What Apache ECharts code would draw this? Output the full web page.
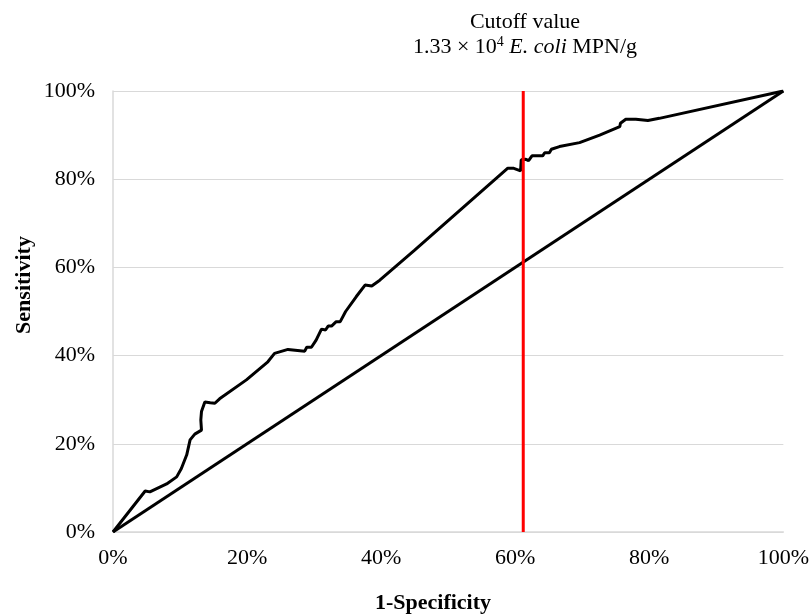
<!DOCTYPE html>
<html>
<head>
<meta charset="utf-8">
<script src="https://cdn.jsdelivr.net/npm/echarts@6/dist/echarts.min.js"></script>
<style>
  html, body { margin: 0; padding: 0; background: #fff; }
  #chart { width: 812px; height: 615px; }
</style>
</head>
<body>
<div id="chart"></div>
<script>
// ROC curve (1-specificity %, sensitivity %)
var rocFpr = [0, 4.8, 5.5, 8.0, 9.5, 10.2, 11.0, 11.5, 12.2, 13.2, 13.1, 13.2, 13.7, 14.5, 15.2, 15.9,
  19.9, 23.1, 24.1, 26.1, 28.6, 28.9, 29.6, 30.3, 31.1, 31.7, 32.1, 32.6, 33.3, 33.9, 34.7, 36.3,
  37.6, 38.6, 39.8, 45.0, 58.9, 59.7, 60.8, 60.9, 61.6, 62.0, 62.5, 64.1, 64.4, 65.1, 65.4, 66.6,
  69.6, 72.6, 75.6, 75.7, 76.5, 78.0, 79.8, 81.5, 100];
var rocTpr = [0, 9.3, 9.1, 10.9, 12.5, 14.4, 17.5, 20.9, 22.2, 23.1, 25.4, 27.3, 29.5, 29.3, 29.2, 30.2,
  34.5, 38.6, 40.5, 41.4, 41.0, 41.9, 41.9, 43.5, 46.0, 45.8, 46.7, 46.7, 47.7, 47.7, 50.0, 53.4,
  56.0, 55.8, 57.1, 63.9, 82.5, 82.5, 81.9, 84.4, 84.5, 84.2, 85.3, 85.3, 86.0, 86.0, 86.8, 87.4,
  88.3, 90.0, 91.9, 92.7, 93.6, 93.6, 93.3, 93.8, 100];
var refFpr = [0, 100];
var refTpr = [0, 100];
var cutoff = 61.2;
var tickValues = [0, 20, 40, 60, 80, 100];

var font = '"Liberation Serif", "Times New Roman", serif';

function pairs(xs, ys) {
  return xs.map(function (x, i) { return [x, ys[i]]; });
}

var chart = echarts.init(document.getElementById('chart'));
chart.setOption({
  animation: false,
  grid: { left: 113, right: 28, top: 91, bottom: 83 },
  xAxis: {
    type: 'value',
    min: tickValues[0],
    max: tickValues[tickValues.length - 1],
    interval: 20,
    axisLine: { show: true, lineStyle: { color: '#d9d9d9', width: 1.5 } },
    axisTick: { show: false },
    splitLine: { show: false },
    axisLabel: { formatter: '{value}%', color: '#000', fontFamily: font, fontSize: 22, margin: 15 }
  },
  yAxis: {
    type: 'value',
    min: tickValues[0],
    max: tickValues[tickValues.length - 1],
    interval: 20,
    axisLine: { show: true, lineStyle: { color: '#d9d9d9', width: 1.5 } },
    axisTick: { show: false },
    splitLine: { show: true, lineStyle: { color: '#d9d9d9', width: 1.2 } },
    axisLabel: { formatter: '{value}%', color: '#000', fontFamily: font, fontSize: 22, margin: 18 }
  },
  series: [
    {
      name: 'ROC',
      type: 'line',
      data: pairs(rocFpr, rocTpr),
      showSymbol: false,
      lineStyle: { color: '#000', width: 3 },
      z: 3
    },
    {
      name: 'Reference',
      type: 'line',
      data: pairs(refFpr, refTpr),
      showSymbol: false,
      lineStyle: { color: '#000', width: 3 },
      z: 3
    },
    {
      name: 'Cutoff',
      type: 'line',
      data: [[cutoff, 0], [cutoff, 100]],
      showSymbol: false,
      lineStyle: { color: '#ff0000', width: 3 },
      z: 4
    }
  ],
  graphic: [
    {
      type: 'text',
      x: 525, y: 11,
      style: {
        text: 'Cutoff value',
        align: 'center',
        fill: '#000',
        font: '22px ' + font
      }
    },
    {
      type: 'text',
      x: 525, y: 35,
      style: {
        text: '{n|1.33 × 10}{s|4}{n| }{i|E. coli}{n| MPN/g}',
        align: 'center',
        fill: '#000',
        rich: {
          n: { fontFamily: font, fontSize: 22, fill: '#000' },
          s: { fontFamily: font, fontSize: 14, fill: '#000', verticalAlign: 'top', padding: [0, 0, 10, 0] },
          i: { fontFamily: font, fontSize: 22, fontStyle: 'italic', fill: '#000' }
        }
      }
    },
    {
      type: 'text',
      x: 433, y: 592,
      style: {
        text: '1-Specificity',
        align: 'center',
        fill: '#000',
        font: 'bold 22px ' + font
      }
    },
    {
      type: 'text',
      x: 13, y: 285,
      rotation: Math.PI / 2,
      style: {
        text: 'Sensitivity',
        align: 'center',
        verticalAlign: 'top',
        fill: '#000',
        font: 'bold 22px ' + font
      }
    }
  ]
});
</script>
</body>
</html>
